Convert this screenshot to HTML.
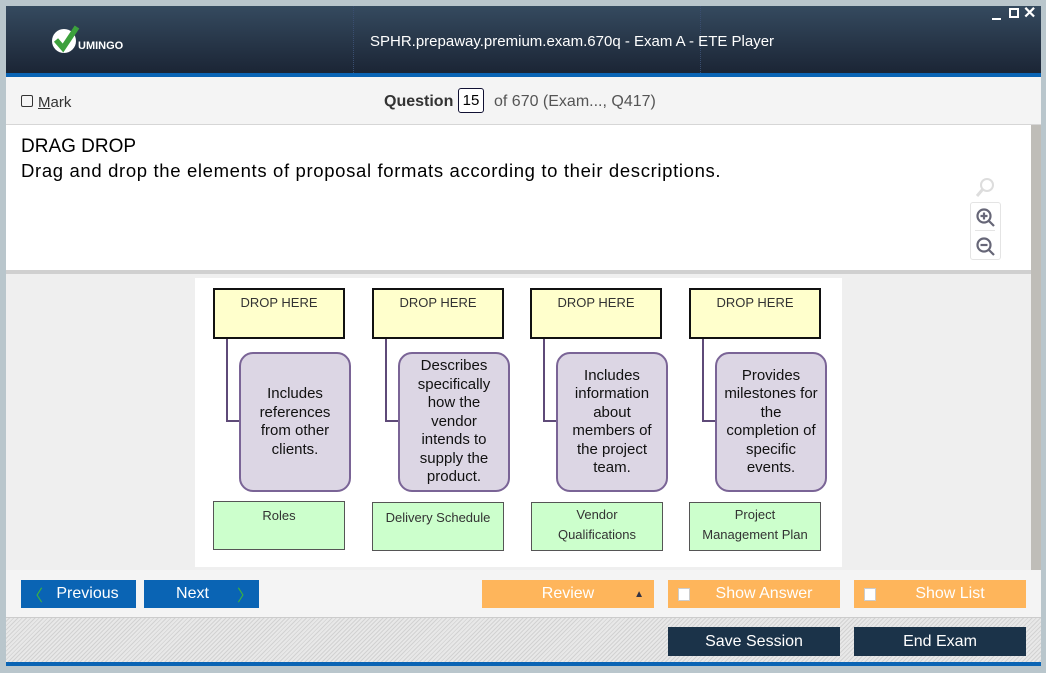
<!DOCTYPE html>
<html><head><meta charset="utf-8"><style>
*{margin:0;padding:0;box-sizing:border-box}
body{width:1046px;height:673px;background:#b9c6cc;position:relative;overflow:hidden;font-family:"Liberation Sans",Arial,sans-serif}
.a{position:absolute}
.hdr{left:6px;top:6px;width:1035px;height:67px;background:linear-gradient(#354a5f,#1b2535)}
.drop{background:#ffffcc;border:2px solid #111;font-size:13px;color:#333;text-align:center;padding-top:5px}
.pur{background:#dcd6e4;border:2px solid #7a6496;border-radius:14px;font-size:15px;color:#111;text-align:center;display:flex;align-items:center;justify-content:center;line-height:18.5px}
.grn{background:#ccffcc;border:1.5px solid #555;font-size:13px;color:#333;text-align:center;padding-top:5px;line-height:20px}
.ln{background:#5e4a78}
.btn{color:#fff;font-size:16px;display:flex;align-items:center;justify-content:center}
.chk{width:12px;height:13px;background:#fff;border:1px solid #ccc}
</style></head><body>
<div class="a hdr"></div>
<div class="a" style="left:353px;top:6px;width:1px;height:67px;border-left:1px dotted #3a4e70"></div>
<div class="a" style="left:700px;top:6px;width:1px;height:67px;border-left:1px dotted #3a4e70"></div>
<svg class="a" style="left:50px;top:24px" width="90" height="30"><circle cx="14" cy="17" r="12" fill="#fff"/><path d="M6 16 L13 24 L27 3" stroke="#3ca03c" stroke-width="5.5" fill="none"/><text x="28" y="25" fill="#fff" font-size="11" font-weight="bold" font-family="Liberation Sans">UMINGO</text></svg>
<div class="a" style="left:370px;top:33px;color:#fff;font-size:15px">SPHR.prepaway.premium.exam.670q - Exam A - ETE Player</div>
<div class="a" style="left:992px;top:9px;width:9px;height:2px;background:#fff;top:18px"></div>
<div class="a" style="left:1009px;top:8px;width:10px;height:10px;border:2px solid #fff"></div>
<div class="a" style="left:1023px;top:3px;color:#fff;font-size:16px;font-weight:bold">✕</div>
<div class="a" style="left:6px;top:73px;width:1035px;height:4px;background:#0a64b4"></div>
<div class="a" style="left:6px;top:77px;width:1035px;height:48px;background:#f4f4f4;border-bottom:1px solid #d6d6d6"></div>
<div class="a" style="left:21px;top:95px;width:12px;height:12px;border:1px solid #333;border-radius:2px"></div>
<div class="a" style="left:38px;top:94px;font-size:15px;color:#333"><u>M</u>ark</div>
<div class="a" style="left:384px;top:93px;font-size:16px;color:#333"><b>Question</b></div>
<div class="a" style="left:458px;top:88px;width:26px;height:25px;border:1px solid #113;border-radius:3px;font-size:15px;text-align:center;line-height:23px;background:#fff">15</div>
<div class="a" style="left:494px;top:93px;font-size:16px;color:#555">of 670 (Exam..., Q417)</div>
<div class="a" style="left:6px;top:125px;width:1025px;height:145px;background:#fff"></div>
<div class="a" style="left:21px;top:136px;font-size:19px;color:#000">DRAG DROP</div>
<div class="a" style="left:21px;top:160px;font-size:18.5px;color:#000;white-space:nowrap;letter-spacing:0.65px">Drag and drop the elements of proposal formats according to their descriptions.</div>
<svg class="a" style="left:974px;top:176px" width="24" height="24"><circle cx="13" cy="9" r="6" stroke="#ddd" stroke-width="2" fill="none"/><path d="M9 13 L3 20" stroke="#ddd" stroke-width="3"/></svg>
<div class="a" style="left:970px;top:202px;width:31px;height:58px;border:1px solid #e4e4e4;border-radius:3px"></div>
<div class="a" style="left:975px;top:230px;width:20px;height:1px;background:#e4e4e4"></div>
<svg class="a" style="left:974px;top:206px" width="24" height="52"><g stroke="#667" fill="none" stroke-width="2.2"><circle cx="10" cy="10" r="6.5"/><path d="M15 15 L20 20"/><path d="M6.5 10 H13.5 M10 6.5 V13.5"/><circle cx="10" cy="39" r="6.5"/><path d="M15 44 L20 49"/><path d="M6.5 39 H13.5"/></g></svg>
<div class="a" style="left:6px;top:270px;width:1025px;height:4px;background:#d0d0d0"></div>
<div class="a" style="left:6px;top:274px;width:1025px;height:296px;background:#efefef"></div>
<div class="a" style="left:1031px;top:125px;width:10px;height:445px;background:#bfbdb8"></div>
<div class="a" style="left:195px;top:278px;width:647px;height:289px;background:#fff"></div>

<div class="a ln" style="left:226px;top:338px;width:2px;height:84px"></div><div class="a ln" style="left:226px;top:420px;width:14px;height:2px"></div>
<div class="a ln" style="left:385px;top:338px;width:2px;height:84px"></div><div class="a ln" style="left:385px;top:420px;width:14px;height:2px"></div>
<div class="a ln" style="left:543px;top:338px;width:2px;height:84px"></div><div class="a ln" style="left:543px;top:420px;width:14px;height:2px"></div>
<div class="a ln" style="left:702px;top:338px;width:2px;height:84px"></div><div class="a ln" style="left:702px;top:420px;width:14px;height:2px"></div>

<div class="a drop" style="left:213px;top:288px;width:132px;height:51px">DROP HERE</div>
<div class="a drop" style="left:372px;top:288px;width:132px;height:51px">DROP HERE</div>
<div class="a drop" style="left:530px;top:288px;width:132px;height:51px">DROP HERE</div>
<div class="a drop" style="left:689px;top:288px;width:132px;height:51px">DROP HERE</div>

<div class="a pur" style="left:239px;top:352px;width:112px;height:140px">Includes<br>references<br>from other<br>clients.</div>
<div class="a pur" style="left:398px;top:352px;width:112px;height:140px">Describes<br>specifically<br>how the<br>vendor<br>intends to<br>supply the<br>product.</div>
<div class="a pur" style="left:556px;top:352px;width:112px;height:140px">Includes<br>information<br>about<br>members of<br>the project<br>team.</div>
<div class="a pur" style="left:715px;top:352px;width:112px;height:140px">Provides<br>milestones for<br>the<br>completion of<br>specific<br>events.</div>

<div class="a grn" style="left:213px;top:501px;width:132px;height:49px;padding-top:4px">Roles</div>
<div class="a grn" style="left:372px;top:502px;width:132px;height:49px">Delivery Schedule</div>
<div class="a grn" style="left:531px;top:502px;width:132px;height:49px;padding-top:2px">Vendor<br>Qualifications</div>
<div class="a grn" style="left:689px;top:502px;width:132px;height:49px;padding-top:2px">Project<br>Management Plan</div>

<div class="a" style="left:6px;top:570px;width:1035px;height:48px;background:#f4f4f4;border-bottom:1px solid #ccc"></div>
<div class="a" style="left:6px;top:618px;width:1035px;height:44px;background:repeating-linear-gradient(135deg,#e8e8e8 0 2px,#d2d2d2 2px 3px)"></div>
<div class="a" style="left:6px;top:662px;width:1035px;height:4px;background:#0a64b4"></div>

<div class="a btn" style="left:21px;top:580px;width:115px;height:28px;background:#0a64b4"><span style="color:#3cb43c;position:absolute;left:6px">〈</span><span style="margin-left:18px">Previous</span></div>
<div class="a btn" style="left:144px;top:580px;width:115px;height:28px;background:#0a64b4"><span style="margin-right:18px">Next</span><span style="color:#3cb43c;position:absolute;right:6px">〉</span></div>
<div class="a btn" style="left:482px;top:580px;width:172px;height:28px;background:#feb55b">Review<span style="position:absolute;right:10px;color:#334;font-size:10px">▲</span></div>
<div class="a btn" style="left:668px;top:580px;width:172px;height:28px;background:#feb55b;padding-left:20px"><span class="chk" style="position:absolute;left:10px"></span>Show Answer</div>
<div class="a btn" style="left:854px;top:580px;width:172px;height:28px;background:#feb55b;padding-left:20px"><span class="chk" style="position:absolute;left:10px"></span>Show List</div>
<div class="a btn" style="left:668px;top:627px;width:172px;height:29px;background:#1b3349">Save Session</div>
<div class="a btn" style="left:854px;top:627px;width:172px;height:29px;background:#1b3349">End Exam</div>
</body></html>
